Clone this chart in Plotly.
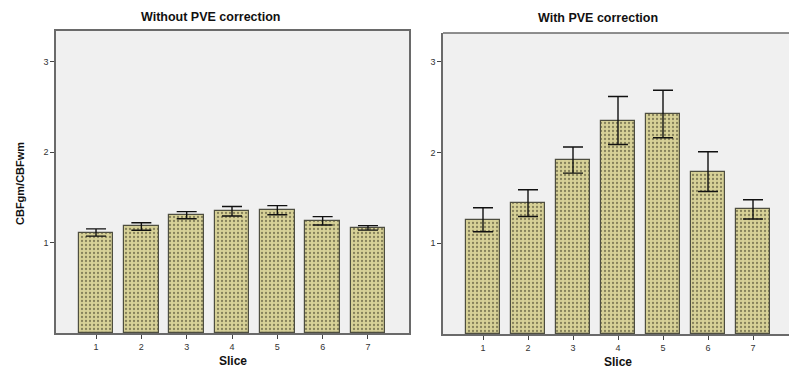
import plotly.graph_objects as go

slices = [1, 2, 3, 4, 5, 6, 7]
tick_labels = ["1", "2", "3", "4", "5", "6", "7"]

# Without PVE correction
mean_raw = [1.11, 1.177, 1.302, 1.345, 1.357, 1.24, 1.162]
err_raw = [0.040, 0.042, 0.039, 0.052, 0.051, 0.046, 0.025]

# With PVE correction
mean_pve = [1.26, 1.443, 1.918, 2.354, 2.426, 1.79, 1.374]
err_pve = [0.132, 0.148, 0.144, 0.265, 0.262, 0.219, 0.106]

y_ticks = [1, 2, 3]

FONT = "Liberation Sans, Arial, sans-serif"
BAR_BG = "#d7d197"
DOT = "#85815a"
EDGE = "#4e4e40"
FRAME = "#6a6a6a"
PLOT_BG = "#f0f0f0"


def bar_trace(y, err, xa, ya):
    return go.Bar(
        x=slices, y=y, xaxis=xa, yaxis=ya, width=0.77,
        marker=dict(
            color=BAR_BG,
            line=dict(color=EDGE, width=1.2),
            pattern=dict(shape=".", size=4, solidity=0.25, fgcolor=DOT,
                         bgcolor=BAR_BG, fillmode="replace"),
        ),
        error_y=dict(type="data", array=err, visible=True,
                     color="#111111", thickness=1.4, width=10),
        showlegend=False, hoverinfo="skip",
    )


fig = go.Figure()
fig.add_trace(bar_trace(mean_raw, err_raw, "x", "y"))
fig.add_trace(bar_trace(mean_pve, err_pve, "x2", "y2"))

ax_common = dict(
    showgrid=False, zeroline=False, showline=True, linecolor=FRAME,
    linewidth=1.5, ticks="outside", ticklen=4,
    tickcolor="#444", tickwidth=1,
    tickfont=dict(family=FONT, size=9, color="#333"),
)


def ann(text, x, y, size=12, angle=0):
    return dict(text=text, x=x / 795, y=1 - y / 370, xref="paper", yref="paper",
                xanchor="center", yanchor="middle", showarrow=False,
                textangle=angle, font=dict(family=FONT, size=size, color="#111"))


fig.update_layout(
    width=795, height=370,
    margin=dict(l=0, r=0, t=0, b=0),
    paper_bgcolor="white", plot_bgcolor=PLOT_BG,
    bargap=0,
    xaxis=dict(ax_common, mirror=True, domain=[56 / 795, 409 / 795],
               range=[0.117, 7.905], tickvals=slices, ticktext=tick_labels,
               anchor="y"),
    yaxis=dict(ax_common, mirror=True, domain=[37 / 370, 339 / 370],
               range=[0, 3.337], tickvals=y_ticks, anchor="x"),
    xaxis2=dict(ax_common, mirror=False, domain=[443 / 795, 789 / 795],
                range=[0.111, 7.8], tickvals=slices, ticktext=tick_labels,
                anchor="y2"),
    yaxis2=dict(ax_common, mirror=False, domain=[36 / 370, 337 / 370],
                range=[0, 3.319], tickvals=y_ticks, anchor="x2"),
    shapes=[
        dict(type="line", xref="x2 domain", yref="y2 domain",
             x0=0, x1=1, y0=1, y1=1, line=dict(color=FRAME, width=1.5)),
    ],
    annotations=[
        ann("<b>Without PVE correction</b>", 210, 17, size=12.5),
        ann("<b>With PVE correction</b>", 598, 18, size=12.5),
        ann("<b>Slice</b>", 233, 361),
        ann("<b>Slice</b>", 618, 362),
        ann("<b>CBFgm/CBFwm</b>", 20, 184, size=11, angle=-90),
    ],
)

fig.write_html("out.html", config={"displayModeBar": False},
               post_script="document.body.style.margin='0';document.body.style.padding='0';")
